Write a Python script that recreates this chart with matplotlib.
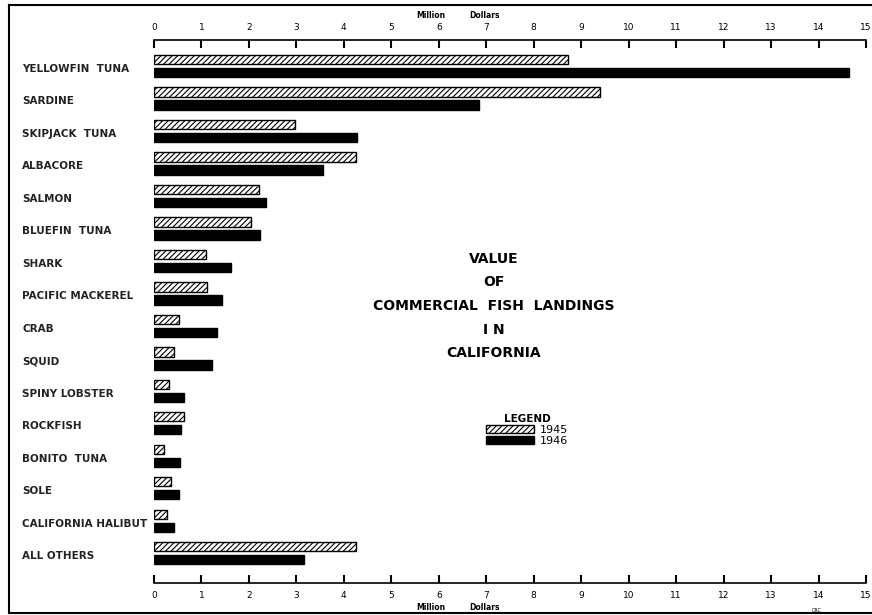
import numpy as np
import matplotlib.pyplot as plt
from matplotlib.lines import Line2D
from matplotlib.patches import Patch
import matplotlib.transforms as mtransforms

# Species, top to bottom
species = ['YELLOWFIN  TUNA', 'SARDINE', 'SKIPJACK  TUNA', 'ALBACORE', 'SALMON',
           'BLUEFIN  TUNA', 'SHARK', 'PACIFIC MACKEREL', 'CRAB', 'SQUID',
           'SPINY LOBSTER', 'ROCKFISH', 'BONITO  TUNA', 'SOLE',
           'CALIFORNIA HALIBUT', 'ALL OTHERS']

# Value of landings, million dollars
value_1945 = [8.72, 9.40, 2.97, 4.25, 2.22, 2.04, 1.09, 1.12, 0.53, 0.43,
              0.31, 0.64, 0.21, 0.35, 0.27, 4.25]
value_1946 = [14.65, 6.84, 4.27, 3.57, 2.36, 2.23, 1.62, 1.44, 1.33, 1.22,
              0.63, 0.56, 0.55, 0.52, 0.43, 3.16]

ticks = list(range(0, 16))

W, H = 872, 615
plt.rcParams['hatch.linewidth'] = 0.8
fig = plt.figure(figsize=(W / 100, H / 100), dpi=100)
fig.patch.set_facecolor('white')

# axes box in pixels: x 154..866, y 40..583
ax = fig.add_axes([154 / W, 1 - 583 / H, (866 - 154) / W, (583 - 40) / H])

y = np.arange(len(species))
bh = 0.28
ax.barh(y - 0.2, value_1945, height=bh, color='white', edgecolor='black',
        hatch='//////', linewidth=1.0, label='1945')
ax.barh(y + 0.2, value_1946, height=bh, color='black', edgecolor='black',
        linewidth=1.0, label='1946')

ax.set_xlim(0, 15)
ax.set_ylim(15.91, -0.8)

for s in ['left', 'right']:
    ax.spines[s].set_visible(False)
for s in ['top', 'bottom']:
    ax.spines[s].set_linewidth(1.2)
ax.set_yticks([])
ax.set_xticks(ticks)
ax.set_xticklabels([str(t) for t in ticks])
ax.tick_params(axis='x', which='both', top=True, bottom=True,
               labeltop=True, labelbottom=True, direction='in',
               length=6, width=1.5, pad=6, labelsize=6.5)

# category labels at the left
trans = mtransforms.blended_transform_factory(fig.transFigure, ax.transData)
for i, name in enumerate(species):
    ax.text(22 / W, i + 0.08, name, transform=trans, ha='left', va='center',
            fontsize=7.5, fontweight='bold', color='#222222')

# axis captions
for yy in [15, 607]:
    fig.text(431 / W, 1 - yy / H, 'Million', ha='center', va='center',
             fontsize=5.5, fontweight='bold')
    fig.text(484 / W, 1 - yy / H, 'Dollars', ha='center', va='center',
             fontsize=5.5, fontweight='bold')
fig.text(817 / W, 1 - 610 / H, 'CRC', ha='center', va='center', fontsize=3.5)

# title block
title_lines = ['VALUE', 'OF', 'COMMERCIAL  FISH  LANDINGS', 'I N', 'CALIFORNIA']
for k, line in enumerate(title_lines):
    fig.text(494 / W, 1 - (259 + 23.5 * k) / H, line, ha='center',
             va='center', fontsize=10, fontweight='bold')

# legend
handles = [Patch(facecolor='white', edgecolor='black', hatch='//////', label='1945'),
           Patch(facecolor='black', edgecolor='black', label='1946')]
leg = fig.legend(handles=handles, title='LEGEND', loc='upper left',
                 bbox_to_anchor=(478 / W, 1 - 406 / H), frameon=False,
                 fontsize=8, title_fontsize=7.5, handlelength=4.3,
                 handleheight=0.75, handletextpad=0.6, labelspacing=0.1,
                 borderpad=0.2)
leg.get_title().set_fontweight('bold')

# frame around the drawing
fig.add_artist(Line2D([9 / W, 1], [1 - 5 / H, 1 - 5 / H], color='black', lw=1.5))
fig.add_artist(Line2D([9 / W, 9 / W], [1 - 5 / H, 1 - 613 / H], color='black', lw=1.5))
fig.add_artist(Line2D([9 / W, 1], [1 - 613 / H, 1 - 613 / H], color='black', lw=1.5))

plt.savefig('out.png', dpi=100)
